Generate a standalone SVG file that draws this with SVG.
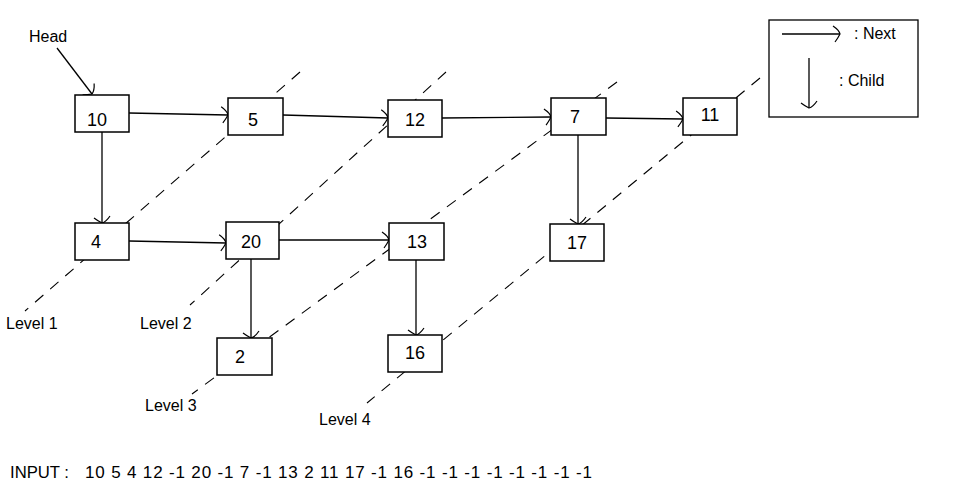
<svg xmlns="http://www.w3.org/2000/svg" width="953" height="493" viewBox="0 0 953 493">
<style>
.bg{fill:#fff}
.box{fill:#fff;stroke:#000;stroke-width:1.5}
.num{font-family:"Liberation Sans",Arial,sans-serif;font-size:18px;fill:#000;text-anchor:middle}
.lbl{font-family:"Liberation Sans",Arial,sans-serif;font-size:16px;fill:#000}
.inp{font-family:"Liberation Sans",Arial,sans-serif;font-size:17px;fill:#000}
.ln{stroke:#000;stroke-width:1.3;fill:none}
.dash{stroke:#000;stroke-width:1.1;fill:none;stroke-dasharray:11 9}
</style>
<defs>
<marker id="arr" viewBox="-10 -9 12 18" refX="0" refY="0" markerWidth="12" markerHeight="18" markerUnits="userSpaceOnUse" orient="auto">
<path d="M-7,-8 Q-1,-4 0,0 Q-2,4 -5,8" fill="none" stroke="#000" stroke-width="1.2"/>
</marker>
</defs>
<rect class="bg" x="0" y="0" width="953" height="493"/>
<g id="levels">
<line class="dash" x1="300" y1="72" x2="25" y2="311"/>
<line class="dash" x1="446" y1="72" x2="190" y2="305"/>
<line class="dash" x1="617" y1="82" x2="192" y2="394"/>
<line class="dash" x1="760" y1="78" x2="367" y2="403"/>
</g>
<g id="connectors">
<line class="ln" x1="57" y1="48" x2="92" y2="94" marker-end="url(#arr)"/>
<line class="ln" x1="129" y1="113" x2="228" y2="115" marker-end="url(#arr)"/>
<line class="ln" x1="283" y1="115" x2="388" y2="118" marker-end="url(#arr)"/>
<line class="ln" x1="442" y1="118" x2="551" y2="117" marker-end="url(#arr)"/>
<line class="ln" x1="606" y1="118" x2="683" y2="119" marker-end="url(#arr)"/>
<line class="ln" x1="129" y1="241" x2="226" y2="243" marker-end="url(#arr)"/>
<line class="ln" x1="279" y1="240" x2="389" y2="240" marker-end="url(#arr)"/>
<line class="ln" x1="102" y1="132" x2="102" y2="223" marker-end="url(#arr)"/>
<line class="ln" x1="251" y1="259" x2="251" y2="338" marker-end="url(#arr)"/>
<line class="ln" x1="578" y1="135" x2="578" y2="224" marker-end="url(#arr)"/>
<line class="ln" x1="416" y1="260" x2="416" y2="335" marker-end="url(#arr)"/>
</g>
<g id="n10"><rect class="box" x="75" y="95" width="54" height="37"/><text class="num" x="97" y="126">10</text></g>
<g id="n5"><rect class="box" x="228" y="98" width="55" height="37"/><text class="num" x="253" y="126">5</text></g>
<g id="n12"><rect class="box" x="388" y="100" width="54" height="37"/><text class="num" x="415" y="126">12</text></g>
<g id="n7"><rect class="box" x="551" y="98" width="55" height="37"/><text class="num" x="575" y="123">7</text></g>
<g id="n11"><rect class="box" x="683" y="98" width="54" height="37"/><text class="num" x="710" y="121">11</text></g>
<g id="n4"><rect class="box" x="75" y="223" width="54" height="37"/><text class="num" x="96" y="248">4</text></g>
<g id="n20"><rect class="box" x="226" y="222" width="53" height="37"/><text class="num" x="251" y="248">20</text></g>
<g id="n13"><rect class="box" x="389" y="223" width="55" height="37"/><text class="num" x="417" y="248">13</text></g>
<g id="n17"><rect class="box" x="550" y="224" width="54" height="37"/><text class="num" x="577" y="249">17</text></g>
<g id="n2"><rect class="box" x="217" y="338" width="55" height="37"/><text class="num" x="240" y="363">2</text></g>
<g id="n16"><rect class="box" x="388" y="335" width="54" height="37"/><text class="num" x="415" y="359">16</text></g>
<g id="labels">
<text class="lbl" x="29" y="42">Head</text>
<text class="lbl" x="6" y="329">Level 1</text>
<text class="lbl" x="140" y="329">Level 2</text>
<text class="lbl" x="145" y="411">Level 3</text>
<text class="lbl" x="319" y="425">Level 4</text>
</g>
<g id="legend">
<rect x="769" y="20" width="149" height="97" fill="none" stroke="#000" stroke-width="1.3"/>
<line class="ln" x1="782" y1="34" x2="840" y2="34" marker-end="url(#arr)"/>
<line class="ln" x1="809" y1="58" x2="809" y2="108" marker-end="url(#arr)"/>
<text class="lbl" x="854" y="39">: Next</text>
<text class="lbl" x="839" y="86">: Child</text>
</g>
<g id="input">
<text class="inp" x="10" y="478" textLength="59" lengthAdjust="spacingAndGlyphs">INPUT :</text>
<text class="inp" x="85" y="478" textLength="507" lengthAdjust="spacing">10 5 4 12 -1 20 -1 7 -1 13 2 11 17 -1 16 -1 -1 -1 -1 -1 -1 -1 -1</text>
</g>
</svg>
